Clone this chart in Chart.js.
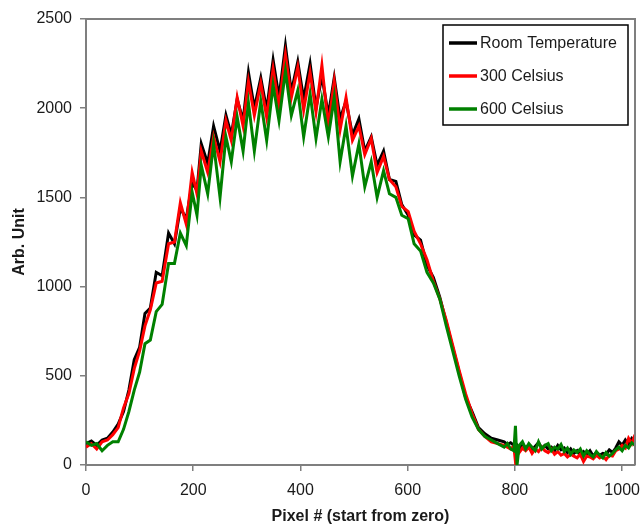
<!DOCTYPE html>
<html>
<head>
<meta charset="utf-8">
<script src="https://cdn.jsdelivr.net/npm/chart.js@4/dist/chart.umd.min.js"></script>
<style>
  body { margin: 0; background: #fff; }
  #wrap { width: 643px; height: 527px; }
</style>
</head>
<body>
<div id="wrap"><canvas id="chart" width="643" height="527"></canvas></div>
<script>
// pixel positions along the detector (x)
const pixels = [0,10,20,30,40,50,60,70,80,90,
    100,110,120,131,142,154,165,176,187,198,
    207,215,227,238,250,261,271,282,293,303,
    314,326,337,349,360,372,383,395,406,418,
    429,440,452,463,474,485,497,509,520,532,
    543,555,566,578,589,601,612,624,636,648,
    660,672,684,696,708,720,732,744,756,768,
    780,786,792,798,801,804,808,814,820,826,
    832,838,844,850,856,862,868,874,880,886,
    892,898,904,910,916,922,928,934,940,946,
    952,958,964,970,976,982,988,994,1000,1006,
    1012,1018,1024];

const roomTemp = [120,135,110,140,150,185,230,300,420,590,
    660,850,880,1080,1060,1300,1240,1440,1380,1580,
    1540,1800,1690,1900,1760,1960,1850,2050,1930,2200,
    2000,2170,1990,2270,2060,2350,2090,2260,2050,2250,
    2000,2180,1960,2170,1940,2040,1850,1940,1760,1840,
    1680,1760,1600,1590,1460,1400,1290,1260,1120,1050,
    940,800,660,520,380,300,210,175,150,140,
    130,115,125,110,100,110,90,120,95,110,
    85,105,125,95,110,90,100,80,110,85,
    95,70,90,65,80,55,75,60,80,50,
    70,55,65,60,85,70,95,130,110,140,
    115,150,135];

const celsius300 = [100,120,90,130,140,170,210,320,400,540,
    640,780,870,1020,1030,1240,1250,1470,1350,1640,
    1520,1760,1640,1840,1700,1930,1820,2060,1900,2150,
    1960,2140,1950,2220,2010,2300,2060,2230,1990,2200,
    1980,2240,1900,2150,1880,2060,1820,1900,1740,1830,
    1640,1730,1600,1560,1450,1420,1310,1240,1150,1030,
    930,810,670,530,400,290,200,160,130,120,
    110,100,90,105,20,90,70,95,80,100,
    65,90,75,100,80,70,90,60,75,55,
    65,45,60,50,40,60,20,50,45,35,
    55,40,50,30,55,50,80,90,110,95,
    150,120,170];

const celsius600 = [130,110,120,80,110,130,130,200,300,420,
    520,680,700,860,900,1130,1130,1300,1230,1530,
    1400,1680,1520,1800,1500,1840,1700,1950,1760,2030,
    1760,2040,1820,2130,1930,2210,1960,2100,1840,2080,
    1830,2050,1840,2060,1700,1900,1620,1800,1560,1700,
    1500,1650,1520,1500,1400,1380,1240,1200,1080,1020,
    930,780,640,500,370,270,200,160,140,120,
    100,120,90,80,220,0,110,130,90,120,
    100,80,130,90,110,120,80,100,90,115,
    75,95,60,85,70,90,50,80,60,45,
    75,55,40,70,50,65,85,100,80,110,
    95,125,110];

const seriesNames = ['Room Temperature', '300 Celsius', '600 Celsius'];
const seriesColors = ['#000000', '#ff0000', '#008000'];
const xTicks = [0, 200, 400, 600, 800, 1000];

function points(ys) {
    return pixels.map((x, i) => ({x: x, y: ys[i]}));
}

const FONT = 'Liberation Sans, Arial, sans-serif';
const AXIS_GRAY = '#7f7f7f';

// box round the plot area plus the legend in the top right corner
const framePlugin = {
    id: 'frame',
    afterDraw(chart) {
        const ctx = chart.ctx;
        const a = chart.chartArea;
        ctx.save();
        ctx.strokeStyle = AXIS_GRAY;
        ctx.lineWidth = 2;
        ctx.beginPath();
        ctx.moveTo(a.left, a.top);
        ctx.lineTo(a.right, a.top);
        ctx.lineTo(a.right, a.bottom);
        ctx.stroke();

        // legend
        ctx.fillStyle = '#fff';
        ctx.fillRect(443, 25, 185, 100);
        ctx.strokeStyle = '#000';
        ctx.lineWidth = 1.5;
        ctx.strokeRect(443, 25, 185, 100);
        const rows = [43, 76, 109];
        ctx.font = '16px ' + FONT;
        ctx.textBaseline = 'middle';
        chart.data.datasets.forEach((ds, i) => {
            ctx.strokeStyle = ds.borderColor;
            ctx.lineWidth = 3.5;
            ctx.beginPath();
            ctx.moveTo(449, rows[i]);
            ctx.lineTo(477, rows[i]);
            ctx.stroke();
            ctx.fillStyle = '#1a1a1a';
            ctx.fillText(ds.label, 480, rows[i] + 1);
        });
        ctx.restore();
    }
};

new Chart(document.getElementById('chart'), {
    type: 'scatter',
    data: {
        datasets: [
            {label: seriesNames[0], data: points(roomTemp), borderColor: seriesColors[0], order: 3},
            {label: seriesNames[1], data: points(celsius300), borderColor: seriesColors[1], order: 2},
            {label: seriesNames[2], data: points(celsius600), borderColor: seriesColors[2], order: 1}
        ].map(d => Object.assign(d, {
            showLine: true, pointRadius: 0, borderWidth: 3, fill: false,
            tension: 0, backgroundColor: d.borderColor
        }))
    },
    options: {
        responsive: false,
        animation: false,
        layout: {padding: {top: 19, right: 8, left: 0, bottom: 0}},
        plugins: {
            legend: {display: false},
            tooltip: {enabled: false}
        },
        scales: {
            x: {
                type: 'linear',
                min: 0,
                max: 1024,
                afterBuildTicks: s => { s.ticks = xTicks.map(v => ({value: v})); },
                afterFit: s => { s.height = 62; s.paddingLeft = 0; s.paddingRight = 0; },
                grid: {drawOnChartArea: false, tickLength: 6, color: AXIS_GRAY, lineWidth: 1.5},
                border: {color: AXIS_GRAY, width: 2},
                ticks: {font: {family: FONT, size: 16}, color: '#1a1a1a', padding: 10, maxRotation: 0,
                        callback: v => String(v)},
                title: {display: true, text: 'Pixel # (start from zero)',
                        font: {family: FONT, size: 16, weight: 'bold'}, color: '#1a1a1a', padding: 1}
            },
            y: {
                min: 0,
                max: 2500,
                afterFit: s => { s.width = 86; s.paddingTop = 0; s.paddingBottom = 0; },
                grid: {drawOnChartArea: false, tickLength: 6, color: AXIS_GRAY, lineWidth: 1.5},
                border: {color: AXIS_GRAY, width: 2},
                ticks: {stepSize: 500, font: {family: FONT, size: 16}, color: '#1a1a1a', padding: 8,
                        callback: v => String(v)},
                title: {display: true, text: 'Arb. Unit',
                        font: {family: FONT, size: 16, weight: 'bold'}, color: '#1a1a1a', padding: 10}
            }
        }
    },
    plugins: [framePlugin]
});
</script>
</body>
</html>
